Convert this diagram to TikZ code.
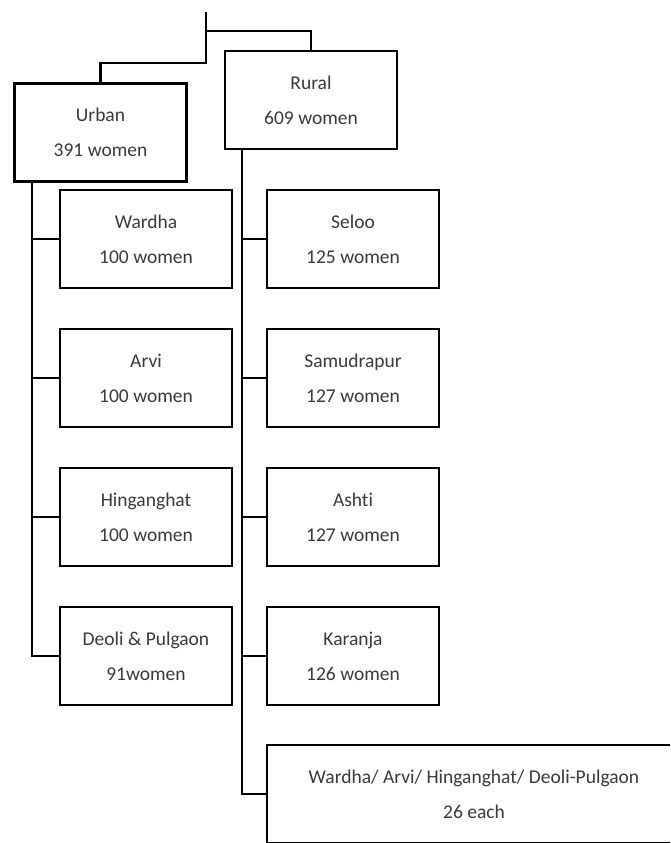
\documentclass[tikz,border=0pt]{standalone}
\usepackage{fontspec}
\setmainfont{Carlito}[Ligatures={NoCommon}]
\definecolor{txt}{HTML}{3A3A3A}
\begin{document}
\begin{tikzpicture}[x=1pt,y=-1pt,
  box/.style={draw=black, line width=2.6pt, fill=white, rectangle, inner sep=0pt,
    minimum width=172pt, minimum height=98pt, align=center, text=txt,
    font=\fontsize{19.5}{35}\selectfont},
  wide/.style={box, minimum width=414pt},
  link/.style={draw=black, line width=2.8pt}]
\useasboundingbox (0,0) rectangle (670,843);
\clip (0,0) rectangle (670,843);
% top connector
\coordinate (top) at (206,12);
\coordinate (jr) at (206,31);
\coordinate (ju) at (206,63);
% main boxes
\node[box] (urban) at (100.5,132.5) {Urban\\391 women};
\node[box] (rural) at (311,100) {Rural\\609 women};
% urban children
\node[box] (wardha) at (146,239) {Wardha\\100 women};
\node[box] (arvi) at (146,378) {Arvi\\100 women};
\node[box] (hing) at (146,517) {Hinganghat\\100 women};
\node[box] (deoli) at (146,656) {Deoli \& Pulgaon\\91women};
% rural children
\node[box] (seloo) at (353,239) {Seloo\\125 women};
\node[box] (samu) at (353,378) {Samudrapur\\127 women};
\node[box] (ashti) at (353,517) {Ashti\\127 women};
\node[box] (karanja) at (353,656) {Karanja\\126 women};
\node[wide] (all) at (474,794) {Wardha/ Arvi/ Hinganghat/ Deoli-Pulgaon\\26 each};
% connectors
\draw[link] (top) -- (ju) -| (urban.north);
\draw[link] (jr) -| (rural.north);
\coordinate (ut) at (32,0);
\draw[link] (urban.south -| ut) |- (deoli.west);
\draw[link] (wardha.west -| ut) -- (wardha.west);
\draw[link] (arvi.west -| ut) -- (arvi.west);
\draw[link] (hing.west -| ut) -- (hing.west);
\coordinate (rt) at (242,0);
\draw[link] (rural.south -| rt) |- (all.west);
\draw[link] (seloo.west -| rt) -- (seloo.west);
\draw[link] (samu.west -| rt) -- (samu.west);
\draw[link] (ashti.west -| rt) -- (ashti.west);
\draw[link] (karanja.west -| rt) -- (karanja.west);
\end{tikzpicture}
\end{document}
